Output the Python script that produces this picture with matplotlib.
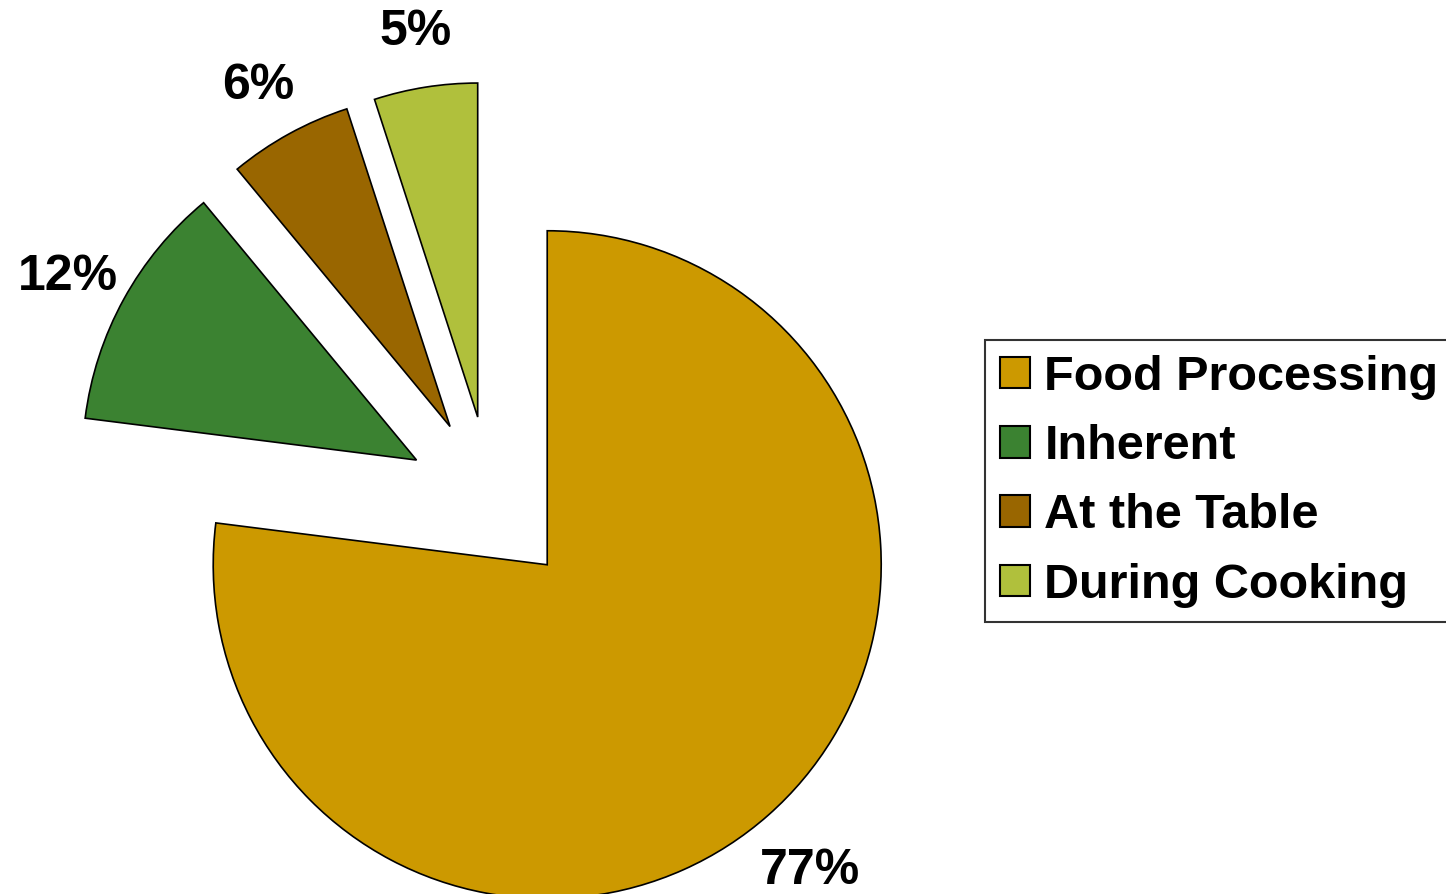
import matplotlib.pyplot as plt
from matplotlib import transforms

plt.rcParams["font.family"] = ["Liberation Sans", "DejaVu Sans"]

categories = ["Food Processing", "Inherent", "At the Table", "During Cooking"]
shares = [77, 12, 6, 5]
colors = ["#CC9900", "#3B8231", "#996600", "#B0C03C"]

W, H = 1446, 894
radius = 334
# every slice pulled out by the same amount (in pixels here)
explode = [85, 85, 85, 85]

fig = plt.figure(figsize=(W / 100, H / 100), dpi=100)
ax = fig.add_axes([0, 0, 1, 1])

wedges, _, autotexts = ax.pie(
    shares,
    colors=colors,
    explode=explode,
    startangle=90,
    counterclock=False,
    radius=radius,
    center=(491, H - 501),
    autopct=lambda p: f"{p:.0f}%",
    pctdistance=1.19,
    wedgeprops={"edgecolor": "black", "linewidth": 1.2},
    textprops={"fontsize": 36, "fontweight": "bold", "color": "black"},
)
# labels sit a little lower than matplotlib puts them
for t in autotexts:
    t.set_transform(transforms.offset_copy(ax.transData, fig=fig, x=0, y=-8, units="dots"))

ax.set_xlim(0, W)
ax.set_ylim(0, H)
ax.set_aspect("equal")
ax.axis("off")

leg = fig.legend(
    wedges,
    categories,
    loc="upper left",
    bbox_to_anchor=(985 / W, 1 - 340 / H),
    prop={"weight": "bold", "size": 35},
    frameon=True,
    fancybox=False,
    edgecolor="black",
    handlelength=0.62,
    handleheight=0.62,
    handletextpad=0.3,
    labelspacing=0.5,
    borderpad=0.3,
    borderaxespad=0,
)
leg.get_frame().set_linewidth(1.5)
for h in leg.legend_handles:
    h.set_linewidth(1.5)

fig.savefig("out.png", dpi=100)
